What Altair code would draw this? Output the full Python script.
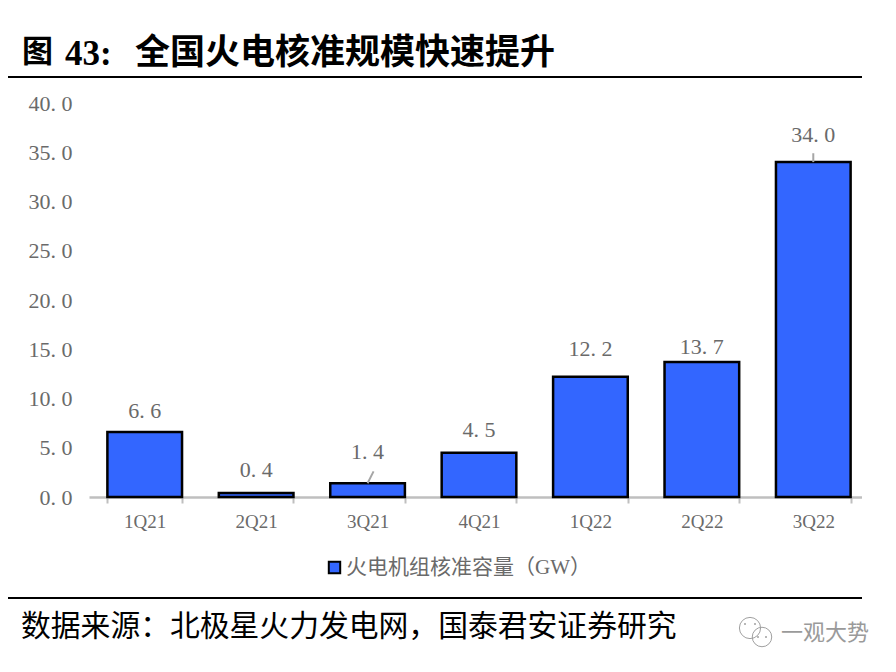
import altair as alt
import pandas as pd

categories = ["1Q21", "2Q21", "3Q21", "4Q21", "1Q22", "2Q22", "3Q22"]
values = [6.6, 0.4, 1.4, 4.5, 12.2, 13.7, 34.0]
label_heights = [8.73, 2.74, 4.57, 6.8, 15.03, 15.2, 36.75]
y_ticks = [0, 5, 10, 15, 20, 25, 30, 35, 40]
series_name = "火电机组核准容量（GW）"
leader_cats = ["3Q21", "3Q22"]
leader_from = [1.4, 34.0]
leader_to = [2.6, 34.9]

title_head = "图"
title_num = "43:"
title_text = "全国火电核准规模快速提升"
source_text = "数据来源：北极星火力发电网，国泰君安证券研究"
watermark_text = "一观大势"

SERIF = "Liberation Serif, Noto Sans CJK SC"
CJK = "Noto Sans CJK SC"
GRAY = "#6a6a6a"

df = pd.DataFrame({
    "cat": categories, "value": values, "lab": label_heights, "series": series_name,
    "txt": [f"{v:.1f}".replace(".", ". ") for v in values],
})
leaders = pd.DataFrame({"cat": leader_cats, "y0": leader_from, "y1": leader_to})

x = alt.X("cat:N", sort=categories, title=None,
          scale=alt.Scale(paddingInner=0.33, paddingOuter=0.165),
          axis=alt.Axis(labelAngle=0, labelFont=SERIF, labelFontSize=19, labelColor=GRAY, labelPadding=9,
                        domainColor="#bfbfbf", domainWidth=2.5, tickColor="#bfbfbf", tickWidth=2,
                        tickSize=6, tickBand="extent", grid=False))
y = alt.Y("value:Q", title=None, scale=alt.Scale(domain=[0, 40], nice=False),
          axis=alt.Axis(values=y_ticks, labelExpr="replace(format(datum.value, '.1f'), '.', '. ')",
                        labelFont=SERIF, labelFontSize=22, labelColor=GRAY,
                        labelPadding=17, domain=False, ticks=False, grid=False))

bars = alt.Chart(df).mark_bar(stroke="black", strokeWidth=2.5).encode(
    x=x, y=y,
    color=alt.Color("series:N", title=None,
                    scale=alt.Scale(range=["#3366ff"]),
                    legend=alt.Legend(orient="none", legendX=235, legendY=454, symbolType="square",
                                      symbolSize=130, symbolStrokeColor="black", symbolStrokeWidth=2,
                                      labelFont=SERIF, labelFontSize=21, labelColor=GRAY, labelLimit=400,
                                      padding=0, labelOffset=1)),
)

labels = alt.Chart(df).mark_text(font=SERIF, fontSize=22, color=GRAY, baseline="middle").encode(
    x=alt.X("cat:N", sort=categories), y=alt.Y("lab:Q"), text="txt:N")

leader_3q21 = alt.Chart(leaders[leaders.cat == "3Q21"]).mark_rule(
    color="#a6a6a6", strokeWidth=2, x2Offset=6).encode(
    x=alt.X("cat:N", sort=categories), x2="cat:N", y="y0:Q", y2="y1:Q")
leader_3q22 = alt.Chart(leaders[leaders.cat == "3Q22"]).mark_rule(
    color="#a6a6a6", strokeWidth=2).encode(
    x=alt.X("cat:N", sort=categories), y="y0:Q", y2="y1:Q")


def static_text(text, px, py, size, color="black", weight="normal", font=CJK):
    return alt.Chart(pd.DataFrame({"t": [text]})).mark_text(
        font=font, fontSize=size, color=color, fontWeight=weight, align="left", baseline="middle"
    ).encode(x=alt.value(px - 89), y=alt.value(py - 103), text="t:N")


def static_rule(py, x0=8, x1=862, color="black", width=2.2):
    return alt.Chart(pd.DataFrame({"a": [0]})).mark_rule(color=color, strokeWidth=width).encode(
        x=alt.value(x0 - 89), x2=alt.value(x1 - 89), y=alt.value(py - 103))


def bubble(px, py, size, fill=False):
    return alt.Chart(pd.DataFrame({"a": [0]})).mark_point(
        shape="circle", filled=fill, color="#a0a0a0", strokeWidth=1, opacity=1
    ).encode(x=alt.value(px - 89), y=alt.value(py - 103), size=alt.value(size))


chart = alt.layer(
    bars, leader_3q21, leader_3q22, labels,
    static_rule(501, 862, 875, "white", 12),
    static_text(title_head, 22, 53, 31, weight="bold"),
    static_text(title_num, 65, 54, 35, weight="bold", font="Liberation Serif"),
    static_text(title_text, 135, 53, 35, weight="bold"),
    static_text(source_text, 21, 627, 29.8),
    static_text(watermark_text, 781, 633, 22, color="#9a9a9a"),
    static_rule(77), static_rule(598),
    bubble(750, 628, 450), bubble(762, 637, 380),
    bubble(745, 624, 4, True), bubble(755, 624, 4, True),
    bubble(758, 637, 4, True), bubble(766, 637, 4, True),
).properties(
    width=780, height=394,
    padding={"left": 81, "top": 95, "right": 19, "bottom": 155},
    autosize=alt.AutoSizeParams(type="none"),
).configure_view(stroke=None)

chart.save("out.html", embed_options={"renderer": "svg", "actions": False})
